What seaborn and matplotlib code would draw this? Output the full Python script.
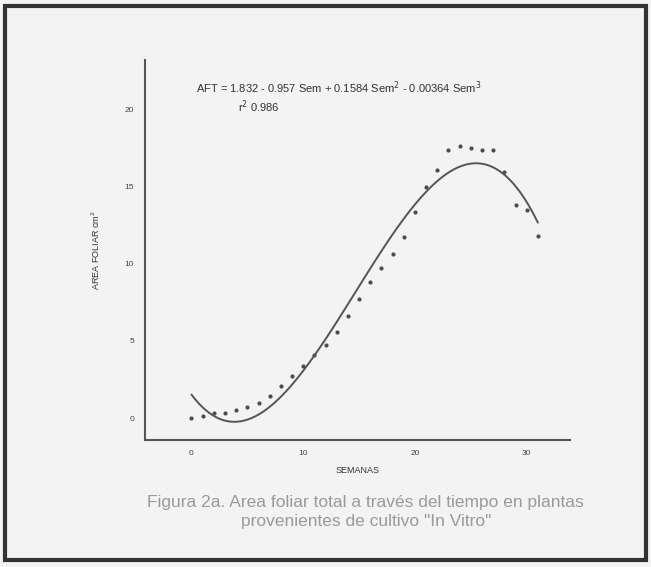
import matplotlib
matplotlib.use("Agg")
import matplotlib.pyplot as plt
import seaborn as sns
import pandas as pd
from matplotlib.patches import Rectangle

# Weekly total leaf area
semanas = list(range(0, 32))
area_foliar = [0.0, 0.13, 0.32, 0.32, 0.52, 0.71, 0.97, 1.42, 2.07, 2.72,
               3.37, 4.08, 4.72, 5.60, 6.60, 7.70, 8.80, 9.70, 10.60, 11.70,
               13.33, 14.95, 16.05, 17.35, 17.61, 17.48, 17.35, 17.35, 15.92,
               13.79, 13.46, 11.78]
x_ticks = [0, 10, 20, 30]
y_ticks = [0, 5, 10, 15, 20]
ecuacion = "AFT = 1.832 - 0.957 Sem + 0.1584 Sem$^2$ - 0.00364 Sem$^3$"
r2_text = "r$^2$ 0.986"
caption = ('Figura 2a. Area foliar total a través del tiempo en plantas\n'
           'provenientes de cultivo "In Vitro"')

df = pd.DataFrame({"semana": semanas, "area": area_foliar})

sns.set_style("white")
plt.rcParams['font.family'] = ['Liberation Sans', 'DejaVu Sans']
bg = "#f3f3f3"

fig = plt.figure(figsize=(6.51, 5.67), dpi=100, facecolor=bg)
ax = fig.add_axes([0.222, 0.224, 0.654, 0.67], facecolor=bg)

sns.regplot(data=df, x="semana", y="area", order=3, ci=None, ax=ax,
            scatter_kws={"s": 9, "color": "#222222", "linewidths": 0},
            line_kws={"color": "#555555", "lw": 1.4})

ax.set_xlim(-4.2, 33.9)
ax.set_ylim(-1.42, 23.17)
ax.set_xticks(x_ticks)
ax.set_yticks(y_ticks)
ax.tick_params(axis="both", labelsize=6, colors="#444444", length=4, width=0.8,
               direction="out")
for s in ["top", "right"]:
    ax.spines[s].set_visible(False)
for s in ["left", "bottom"]:
    ax.spines[s].set_color("#555555")
    ax.spines[s].set_linewidth(1.5)

ax.set_xlabel("SEMANAS", fontsize=6.5, color="#333333", labelpad=6)
ax.set_ylabel("AREA FOLIAR cm$^2$", fontsize=6.5, color="#333333", labelpad=16)

ax.text(0.12, 0.915, ecuacion, transform=ax.transAxes, fontsize=8, color="#333333")
ax.text(0.22, 0.865, r2_text, transform=ax.transAxes, fontsize=8, color="#333333")

fig.text(0.562, 0.097, caption, ha="center", va="center", fontsize=12.5,
         color="#9a9a9a", linespacing=1.3)

fig.add_artist(Rectangle((0.008, 0.012), 0.984, 0.978, transform=fig.transFigure,
                         fill=False, edgecolor="#333333", linewidth=3))

fig.savefig("out.png", dpi=100, facecolor=bg)
